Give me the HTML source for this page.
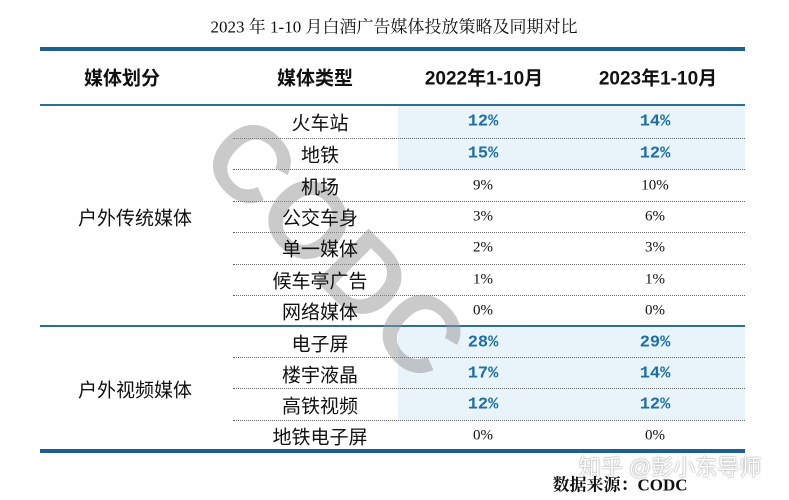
<!DOCTYPE html>
<html style="overflow:hidden;width:789px;height:500px"><head><meta charset="utf-8"><style>
body{margin:0;width:789px;height:500px;background:#fff;position:relative;overflow:hidden;font-family:"Liberation Serif","Noto Serif CJK SC",serif;color:#111}
.a{position:absolute}
.t{position:absolute;transform:translate(-50%,-50%);white-space:nowrap}
.s{font-family:"Liberation Sans","Noto Sans CJK SC",sans-serif}
.dot{position:absolute;left:233px;width:512px;border-top:1px dotted #666}
.hl{position:absolute;left:398px;width:347px;background:#e9f3fa}
.b{color:#1d6fa5;font-weight:bold;font-family:"Liberation Mono",monospace;font-size:17px}
.n{font-size:15px}
.ty{font-size:19px;font-family:"Liberation Sans","Noto Sans CJK SC",sans-serif}
</style></head><body>
<div class="t" style="left:394px;top:25px;font-size:17px">2023 年 1-10 月白酒广告媒体投放策略及同期对比</div>
<div class="a" style="left:40px;top:47px;width:705px;height:4px;background:#1f5f8f"></div>
<div class="t s" style="left:122px;top:77px;font-size:19px;font-weight:bold">媒体划分</div>
<div class="t s" style="left:315px;top:77px;font-size:19px;font-weight:bold">媒体类型</div>
<div class="t s" style="left:484px;top:77px;font-size:19px;font-weight:bold">2022年1-10月</div>
<div class="t s" style="left:658px;top:77px;font-size:19px;font-weight:bold">2023年1-10月</div>
<div class="a" style="left:40px;top:104px;width:705px;height:2px;background:#2c6f92"></div>
<div class="hl" style="top:106px;height:64px"></div>
<div class="hl" style="top:327px;height:93px"></div>
<div class="dot" style="top:138px"></div><div class="dot" style="top:169px"></div><div class="dot" style="top:201px"></div><div class="dot" style="top:232px"></div><div class="dot" style="top:264px"></div><div class="dot" style="top:295px"></div>
<div class="a" style="left:40px;top:325px;width:705px;height:2px;background:#2c6f92"></div>
<div class="dot" style="top:357px"></div><div class="dot" style="top:388px"></div><div class="dot" style="top:420px"></div>
<div class="a" style="left:40px;top:449px;width:705px;height:4px;background:#1f5f8f"></div>
<div class="a" style="left:258px;top:100px;font-size:108px;line-height:100px;font-weight:bold;color:rgba(150,150,150,.5);font-family:'Liberation Sans',sans-serif;transform:rotate(45deg);transform-origin:0 0;white-space:nowrap">CODC</div>
<div class="t ty" style="left:135px;top:217px">户外传统媒体</div>
<div class="t ty" style="left:135px;top:389px">户外视频媒体</div>
<div class="t ty" style="left:320px;top:122px">火车站</div>
<div class="t ty" style="left:320px;top:154px">地铁</div>
<div class="t ty" style="left:320px;top:186px">机场</div>
<div class="t ty" style="left:320px;top:217px">公交车身</div>
<div class="t ty" style="left:320px;top:248px">单一媒体</div>
<div class="t ty" style="left:320px;top:280px">候车亭广告</div>
<div class="t ty" style="left:320px;top:311px">网络媒体</div>
<div class="t ty" style="left:320px;top:343px">电子屏</div>
<div class="t ty" style="left:320px;top:374px">楼宇液晶</div>
<div class="t ty" style="left:320px;top:405px">高铁视频</div>
<div class="t ty" style="left:320px;top:436px">地铁电子屏</div>
<div class="t b" style="left:483px;top:122px">12%</div><div class="t b" style="left:655px;top:122px">14%</div>
<div class="t b" style="left:483px;top:154px">15%</div><div class="t b" style="left:655px;top:154px">12%</div>
<div class="t n" style="left:483px;top:186px">9%</div><div class="t n" style="left:655px;top:186px">10%</div>
<div class="t n" style="left:483px;top:217px">3%</div><div class="t n" style="left:655px;top:217px">6%</div>
<div class="t n" style="left:483px;top:248px">2%</div><div class="t n" style="left:655px;top:248px">3%</div>
<div class="t n" style="left:483px;top:280px">1%</div><div class="t n" style="left:655px;top:280px">1%</div>
<div class="t n" style="left:483px;top:311px">0%</div><div class="t n" style="left:655px;top:311px">0%</div>
<div class="t b" style="left:483px;top:343px">28%</div><div class="t b" style="left:655px;top:343px">29%</div>
<div class="t b" style="left:483px;top:374px">17%</div><div class="t b" style="left:655px;top:374px">14%</div>
<div class="t b" style="left:483px;top:405px">12%</div><div class="t b" style="left:655px;top:405px">12%</div>
<div class="t n" style="left:483px;top:436px">0%</div><div class="t n" style="left:655px;top:436px">0%</div>
<div class="t s" style="left:670px;top:466px;font-size:22px;color:#fff;text-shadow:0 0 1px #999,0 0 2px #aaa">知乎 @彭小东导师</div>
<div class="t" style="left:620px;top:483px;font-size:17px;font-weight:bold">数据来源：CODC</div>
</body></html>
